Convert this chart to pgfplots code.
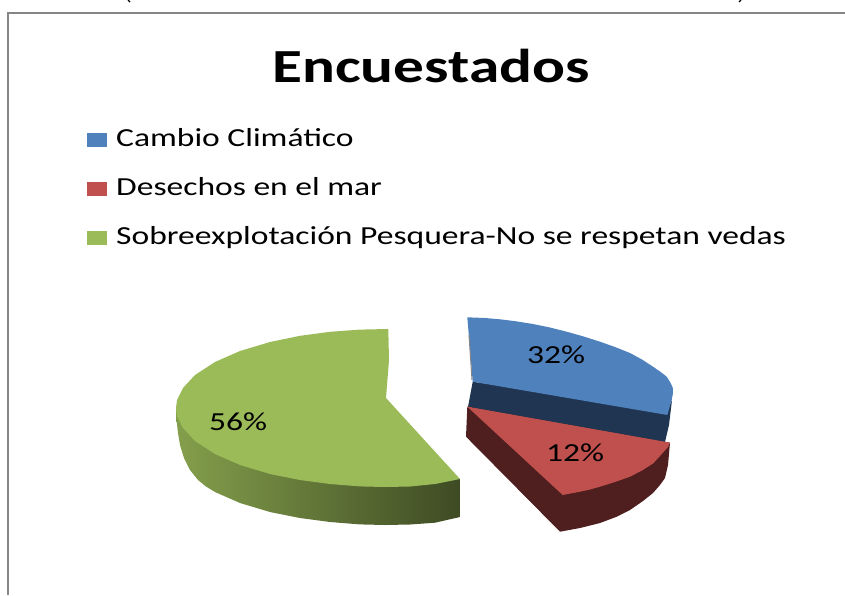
\documentclass[border=0pt]{standalone}
\usepackage{pgfplots}
\pgfplotsset{compat=1.18}
\usepackage{fontspec}
\setmainfont[FakeStretch=1.29]{Carlito}
\definecolor{azul}{HTML}{4F81BD}
\definecolor{azulosc}{HTML}{1F3552}
\definecolor{rojo}{HTML}{C0504D}
\definecolor{rojoosc}{HTML}{4F1E1E}
\definecolor{verde}{HTML}{9BBB59}
\definecolor{marco}{HTML}{868686}

\begin{document}
\begin{tikzpicture}
\begin{axis}[
  name=torta,
  scale only axis,
  width=845pt,
  height=595pt,
  xmin=0, xmax=845,
  ymin=0, ymax=595,
  y dir=reverse,
  hide axis,
  legend style={
    at={(87/845,1-126/595)},
    anchor=north west,
    draw=none,
    fill=none,
    font=\fontsize{26}{30}\selectfont,
    row sep=21pt,
    inner sep=0pt,
    nodes={inner sep=0pt, text height=20pt, text depth=8pt},
    /tikz/column 1/.style={column sep=9pt},
  },
  legend cell align=left,
  legend image code/.code={
    \fill[#1] (0pt,-7pt) rectangle (20pt,7pt);
  },
]
% marco del grafico
\addplot[marco, line width=2pt, forget plot] coordinates {(8,595) (8,13) (845,13)};

% azul: cara lateral y cara superior
\addplot[fill=azulosc, draw=none, forget plot] coordinates {
  (472.7,381.7) (667,410) (672,400) (669,425) (665,442) (468,407)
};
\addplot[fill=azul, draw=none] coordinates {
  (467.3,317.3) (485,318) (500,319.3) (516,321.3) (533,324) (550,327.5) (566.7,331.7)
  (583,336.3) (600,341.7) (615,347) (630,353) (642,359.5) (653,366.7) (660,371.5)
  (666.7,376.7) (670,382) (672.7,387.3) (673,393) (671.7,400) (667.3,415) (472.7,381.7)
};
\addlegendentry{Cambio Climático}
\addplot[color=marco, line width=1pt, forget plot] coordinates {(469,335) (472,380)};

% rojo
\addplot[fill=rojoosc, draw=none, forget plot] coordinates {
  (467.3,406.7) (466,436.7) (560,531.7) (580,528) (600,523) (616,517) (630,510)
  (643,501) (653,493) (660,485) (665,478) (668,465) (670,442.7)
};
\addplot[fill=rojo, draw=none] coordinates {
  (467.3,406.7) (670,442.7) (668,447) (660,456) (653.3,463.3) (642,470.5) (630,476.7)
  (615,482) (600,486.7) (590,489.5) (580,491.7) (562.7,495)
};
\addlegendentry{Desechos en el mar}

% verde
\addplot[left color=verde!85!black, right color=verde!40!black, draw=none, forget plot] coordinates {
  (176,408) (176.5,420) (178,433) (180,445) (184,458) (190,470) (198,480) (206,486.5) (215,492) (240,503)
  (270,512) (300,518) (330,522) (360,524.4) (385,525) (410,524.5) (435,522.7)
  (460,517) (460,479) (176,408)
};
\addplot[fill=verde, draw=none] coordinates {
  (388.3,329) (360,329.6) (330,331.8) (300,335.8) (270,342) (240,351) (215,362)
  (195,375) (183,388) (177,400) (176,408) (177,416) (183,428) (195,441) (215,454)
  (240,465) (270,474) (300,480) (330,484) (360,486.4) (385,487) (410,486.5)
  (435,484) (460,479) (386,398) (389,360)
};
\addlegendentry{Sobreexplotación Pesquera-No se respetan vedas}

% restos del texto cortado arriba
\addplot[black, line width=1.2pt, forget plot] coordinates {(128,0) (130,2)};
\addplot[black, line width=1.2pt, forget plot] coordinates {(741,0) (739,2)};

\node[font=\fontsize{47.5}{52}\selectfont\bfseries] at (axis cs:431,66) {Encuestados};
\node[font=\fontsize{26}{30}\selectfont] at (axis cs:556,355) {32\%};
\node[font=\fontsize{26}{30}\selectfont] at (axis cs:575,453) {12\%};
\node[font=\fontsize{26}{30}\selectfont] at (axis cs:238,422) {56\%};
\end{axis}
\pgfresetboundingbox
\path (torta.south west) rectangle (torta.north east);
\end{tikzpicture}
\end{document}
